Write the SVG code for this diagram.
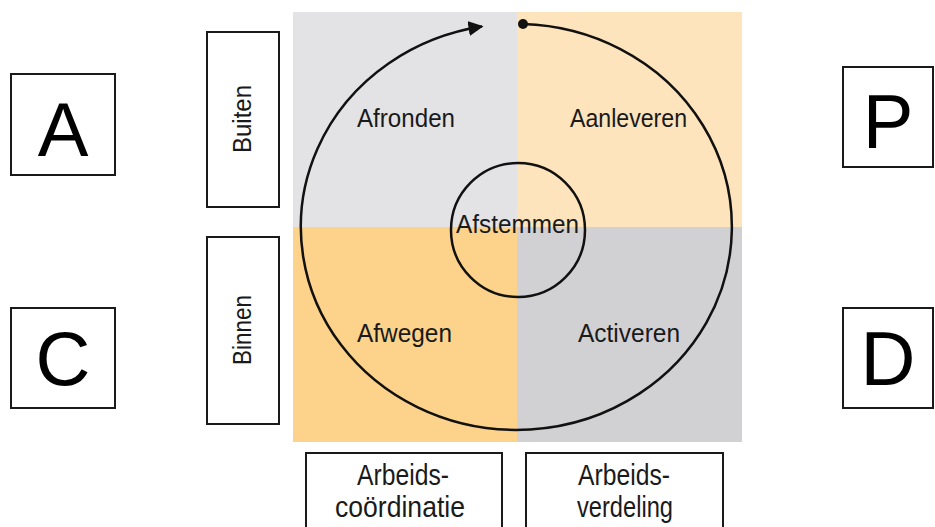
<svg xmlns="http://www.w3.org/2000/svg" width="935" height="527" viewBox="0 0 935 527">
<defs>
<style>
.box{fill:#fff;stroke:#1a1a1a;stroke-width:2}
.letter{font-family:"Liberation Sans",Arial,sans-serif;font-size:76px;fill:#000;text-anchor:middle}
.lbl{font-family:"Liberation Sans",Arial,sans-serif;font-size:26px;fill:#1a1a1a}
.side{font-family:"Liberation Sans",Arial,sans-serif;font-size:25px;fill:#1a1a1a}
.bot{font-family:"Liberation Sans",Arial,sans-serif;font-size:29px;fill:#1a1a1a}
.line{fill:none;stroke:#111;stroke-width:2.5}
</style>
<marker id="arr" viewBox="0 0 10 10" refX="9" refY="5" markerWidth="6" markerHeight="6" markerUnits="strokeWidth" orient="auto">
<path d="M0,0 L10,5 L0,10 z" fill="#111"/>
</marker>
</defs>
<rect width="935" height="527" fill="#fff"/>
<g id="panel">
<rect x="293" y="12" width="224" height="215" fill="#e3e3e6"/>
<rect x="517" y="12" width="225" height="215" fill="#fde4bd"/>
<rect x="293" y="227" width="224" height="215" fill="#fdd38c"/>
<rect x="517" y="227" width="225" height="215" fill="#d1d1d3"/>
</g>
<g id="connectors">
<path class="line" d="M523,24 A215.5,203 0 1 1 482,26.5" marker-end="url(#arr)"/>
<circle cx="523" cy="24" r="5" fill="#111"/>
</g>
<g id="inner">
<circle cx="518" cy="230" r="67" fill="none" stroke="#111" stroke-width="2.5"/>
<text class="lbl" x="456" y="233" textLength="123" lengthAdjust="spacingAndGlyphs">Afstemmen</text>
</g>
<g id="afronden"><text class="lbl" x="357" y="127" textLength="98" lengthAdjust="spacingAndGlyphs">Afronden</text></g>
<g id="aanleveren"><text class="lbl" x="570" y="127" textLength="117" lengthAdjust="spacingAndGlyphs">Aanleveren</text></g>
<g id="afwegen"><text class="lbl" x="357" y="342" textLength="95" lengthAdjust="spacingAndGlyphs">Afwegen</text></g>
<g id="activeren"><text class="lbl" x="578" y="342" textLength="102" lengthAdjust="spacingAndGlyphs">Activeren</text></g>
<g id="buiten">
<rect class="box" x="207" y="32" width="72" height="175"/>
<text class="side" transform="translate(251,153) rotate(-90)" textLength="68" lengthAdjust="spacingAndGlyphs">Buiten</text>
</g>
<g id="binnen">
<rect class="box" x="207" y="237" width="72" height="187"/>
<text class="side" transform="translate(251,365) rotate(-90)" textLength="70" lengthAdjust="spacingAndGlyphs">Binnen</text>
</g>
<g id="arbeidscoordinatie">
<rect class="box" x="306" y="453" width="196" height="90"/>
<text class="bot" x="357" y="485" textLength="92" lengthAdjust="spacingAndGlyphs">Arbeids-</text>
<text class="bot" x="335" y="517" textLength="130" lengthAdjust="spacingAndGlyphs">coördinatie</text>
</g>
<g id="arbeidsverdeling">
<rect class="box" x="526" y="453" width="197" height="90"/>
<text class="bot" x="578" y="485" textLength="92" lengthAdjust="spacingAndGlyphs">Arbeids-</text>
<text class="bot" x="577" y="517" textLength="96" lengthAdjust="spacingAndGlyphs">verdeling</text>
</g>
<g id="A"><rect class="box" x="11" y="74" width="104" height="101"/><text class="letter" x="63" y="156">A</text></g>
<g id="C"><rect class="box" x="11" y="308" width="104" height="100"/><text class="letter" x="63" y="385">C</text></g>
<g id="P"><rect class="box" x="843" y="67" width="90" height="100"/><text class="letter" x="888" y="148">P</text></g>
<g id="D"><rect class="box" x="843" y="308" width="90" height="100"/><text class="letter" x="888" y="385">D</text></g>
</svg>
